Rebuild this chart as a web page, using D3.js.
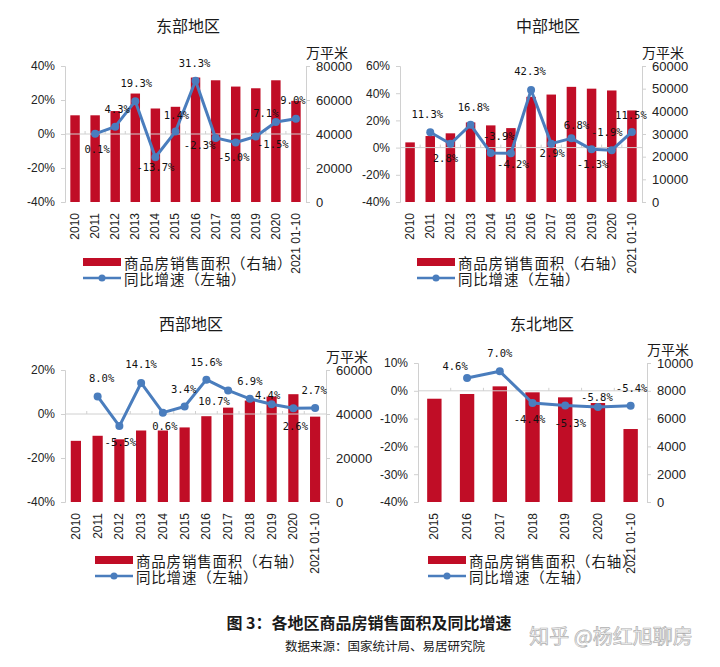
<!DOCTYPE html>
<html>
<head>
<meta charset="utf-8">
<script src="https://cdn.jsdelivr.net/npm/d3@7"></script>
<style>
  body { margin: 0; background: #fff; }
  svg { display: block; }
  text { fill: #1a1a1a; }
</style>
</head>
<body>
<div id="chart"></div>
<script>
// ---- data ----
const yearsLong = ["2010", "2011", "2012", "2013", "2014", "2015", "2016", "2017", "2018", "2019", "2020", "2021 01-10"];
const yearsShort = ["2015", "2016", "2017", "2018", "2019", "2020", "2021 01-10"];

// 东部地区
const eastArea = [51000, 51000, 53500, 63800, 55000, 56000, 73200, 71600, 67900, 66900, 71600, 59500];
const eastGrowth = [null, 0.1, 4.3, 19.3, -13.7, 1.4, 31.3, -2.3, -5.0, -1.5, 7.1, 9.0];
// 中部地区
const centralArea = [26300, 29100, 30300, 35100, 33800, 32600, 46400, 47400, 50800, 50000, 49200, 40400];
const centralGrowth = [null, 11.3, 2.8, 16.8, -3.9, -4.2, 42.3, 2.9, 6.8, -1.3, -1.9, 11.5];
// 西部地区
const westArea = [27800, 30100, 28500, 32500, 32500, 33900, 39000, 42900, 46100, 47900, 49000, 38800];
const westGrowth = [null, 8.0, -5.5, 14.1, 0.6, 3.4, 15.6, 10.7, 6.9, 4.4, 2.6, 2.7];
// 东北地区
const neArea = [7430, 7770, 8320, 7890, 7530, 7120, 5250];
const neGrowth = [null, 4.6, 7.0, -4.4, -5.3, -5.8, -5.4];

// label placement (dx, dy from the point), like the original chart
const eastLabelPos = [null, [2, 15], [2, -18], [1, -18], [0, 10], [1, -17], [-1, -18], [-16, 7], [-2, 14], [17, 7], [-10, -9], [-3, -19]];
const centralLabelPos = [null, [-3, -18], [-5, 14], [3, -18], [8, -17], [2, 11], [-1, -19], [1, 9], [5, -13], [1, 15], [-5, -18], [-1, -17]];
const westLabelPos = [null, [4, -18], [1, 16], [0, -19], [2, 13], [-1, -18], [0, -18], [-14, 11], [0, -18], [-4, -9], [2, 18], [-1, -18]];
const neLabelPos = [null, [-12, -12], [0, -18], [-3, 16], [5, 17], [-1, -10], [1, -18]];

const barColor = "#c00d26";
const lineColor = "#4a7dbd";
const axisColor = "#d0d0d0";

let svg = d3.select("#chart")
    .append("svg")
    .attr("width", 720)
    .attr("height", 667);

function drawPanel(p) {
    let g = svg.append("g");

    let scaleX = d3.scaleBand()
        .domain(p.cats)
        .range([p.left, p.right])
        .paddingInner(p.pad)
        .paddingOuter(p.pad / 2);
    let band = (p.right - p.left) / p.cats.length;
    let center = d => p.left + band * (p.cats.indexOf(d) + 0.5);

    let scaleL = d3.scaleLinear().domain(p.leftDomain).range([p.bottom, p.top]);
    let scaleR = d3.scaleLinear().domain(p.rightDomain).range([p.bottom, p.top]);

    // 标题
    g.append("text")
        .attr("x", p.titleX).attr("y", p.titleY)
        .attr("text-anchor", "middle")
        .attr("dominant-baseline", "central")
        .style("font", "16px 'Noto Sans CJK SC'")
        .text(p.title);

    // 左轴
    let axisL = d3.axisLeft(scaleL)
        .tickValues(d3.range(p.leftDomain[0], p.leftDomain[1] + 0.1, p.leftStep))
        .tickFormat(d => d + "%")
        .tickSize(4).tickPadding(6);
    let gl = g.append("g")
        .attr("transform", `translate(${p.left},0)`)
        .call(axisL);
    gl.selectAll("text").style("font", "12px 'Liberation Sans'").style("fill", "#222");

    // 右轴
    let axisR = d3.axisRight(scaleR)
        .tickValues(d3.range(p.rightDomain[0], p.rightDomain[1] + 1, p.rightStep))
        .tickFormat(d => d)
        .tickSize(4).tickPadding(6);
    let gr = g.append("g")
        .attr("transform", `translate(${p.right},0)`)
        .call(axisR);
    gr.selectAll("text").style("font", "13px 'Liberation Sans'").style("fill", "#222");

    g.selectAll(".domain, .tick line").attr("stroke", axisColor);

    g.append("text")
        .attr("x", p.right).attr("y", scaleR(p.rightDomain[1]) - 14)
        .attr("dominant-baseline", "central")
        .style("font", "14px 'Noto Sans CJK SC'")
        .text("万平米");

    // 柱子
    g.selectAll(".bar")
        .data(p.area)
        .enter()
        .append("rect")
        .attr("x", (d, i) => scaleX(p.cats[i]))
        .attr("width", scaleX.bandwidth())
        .attr("y", d => scaleR(d))
        .attr("height", d => scaleR(0) - scaleR(d))
        .attr("fill", barColor);

    // 0% 线 + 分类刻度
    let y0 = scaleL(0);
    g.append("line")
        .attr("x1", p.left).attr("x2", p.right)
        .attr("y1", y0).attr("y2", y0)
        .attr("stroke", axisColor);
    g.selectAll(".cat-tick")
        .data(d3.range(1, p.cats.length))
        .enter()
        .append("line")
        .attr("x1", i => p.left + band * i).attr("x2", i => p.left + band * i)
        .attr("y1", y0).attr("y2", y0 - 3)
        .attr("stroke", axisColor);

    // x 标签（竖排）
    g.selectAll(".xlab")
        .data(p.cats)
        .enter()
        .append("text")
        .attr("transform", d => `translate(${center(d) + 4},${p.bottom + 11}) rotate(-90)`)
        .attr("text-anchor", "end")
        .style("font", "12px 'Liberation Sans'")
        .style("fill", "#222")
        .text(d => d);

    // 折线
    let pts = p.growth.map((v, i) => ({ v: v, c: p.cats[i], pos: p.labelPos[i] }))
        .filter(d => d.v !== null);
    let line = d3.line()
        .x(d => center(d.c))
        .y(d => scaleL(d.v));
    g.append("path")
        .datum(pts)
        .attr("d", line)
        .attr("fill", "none")
        .attr("stroke", lineColor)
        .attr("stroke-width", 3)
        .attr("stroke-linejoin", "round");
    g.selectAll(".dot")
        .data(pts)
        .enter()
        .append("circle")
        .attr("cx", d => center(d.c))
        .attr("cy", d => scaleL(d.v))
        .attr("r", 4)
        .attr("fill", lineColor);

    // 数据标签
    g.selectAll(".dlab")
        .data(pts)
        .enter()
        .append("text")
        .attr("x", d => center(d.c) + d.pos[0])
        .attr("y", d => scaleL(d.v) + d.pos[1])
        .attr("text-anchor", "middle")
        .attr("dominant-baseline", "central")
        .style("font", "10.5px 'DejaVu Sans Mono'")
        .style("fill", "#111")
        .text(d => d.v.toFixed(1) + "%");

    // 图例
    let lg = g.append("g").attr("transform", `translate(${p.legendX},${p.legendY})`);
    lg.append("rect").attr("x", 0).attr("y", -4).attr("width", 38).attr("height", 8).attr("fill", barColor);
    lg.append("text").attr("x", 41).attr("y", 0).attr("dominant-baseline", "central")
        .style("font", "14.5px 'Noto Sans CJK SC'").style("letter-spacing", "0.8px")
        .text("商品房销售面积（右轴）");
    lg.append("line").attr("x1", 0).attr("x2", 38).attr("y1", 16).attr("y2", 16)
        .attr("stroke", lineColor).attr("stroke-width", 2.5);
    lg.append("circle").attr("cx", 19).attr("cy", 16).attr("r", 3.5).attr("fill", lineColor);
    lg.append("text").attr("x", 41).attr("y", 16).attr("dominant-baseline", "central")
        .style("font", "14.5px 'Noto Sans CJK SC'").style("letter-spacing", "0.8px")
        .text("同比增速（左轴）");
}

drawPanel({
    title: "东部地区", titleX: 188, titleY: 25,
    cats: yearsLong, area: eastArea, growth: eastGrowth, labelPos: eastLabelPos,
    left: 65, right: 306, top: 66, bottom: 202, pad: 0.53,
    leftDomain: [-40, 40], leftStep: 20, rightDomain: [0, 80000], rightStep: 20000,
    legendX: 83, legendY: 262
});
drawPanel({
    title: "中部地区", titleX: 548, titleY: 25,
    cats: yearsLong, area: centralArea, growth: centralGrowth, labelPos: centralLabelPos,
    left: 400, right: 642, top: 66, bottom: 202, pad: 0.53,
    leftDomain: [-40, 60], leftStep: 20, rightDomain: [0, 60000], rightStep: 10000,
    legendX: 417, legendY: 262
});
drawPanel({
    title: "西部地区", titleX: 191, titleY: 323,
    cats: yearsLong, area: westArea, growth: westGrowth, labelPos: westLabelPos,
    left: 65, right: 326, top: 370, bottom: 502, pad: 0.53,
    leftDomain: [-40, 20], leftStep: 20, rightDomain: [0, 60000], rightStep: 20000,
    legendX: 95, legendY: 560
});
drawPanel({
    title: "东北地区", titleX: 542, titleY: 323,
    cats: yearsShort, area: neArea, growth: neGrowth, labelPos: neLabelPos,
    left: 418, right: 647, top: 363, bottom: 502, pad: 0.56,
    leftDomain: [-40, 10], leftStep: 10, rightDomain: [0, 10000], rightStep: 2000,
    legendX: 428, legendY: 560
});

// 图注
svg.append("text")
    .attr("x", 369).attr("y", 622)
    .attr("text-anchor", "middle").attr("dominant-baseline", "central")
    .style("font", "bold 16px 'Noto Sans CJK SC'")
    .text("图 3：各地区商品房销售面积及同比增速");
svg.append("text")
    .attr("x", 385).attr("y", 645)
    .attr("text-anchor", "middle").attr("dominant-baseline", "central")
    .style("font", "12.5px 'Noto Sans CJK SC'")
    .text("数据来源：国家统计局、易居研究院");
svg.append("text")
    .attr("x", 611).attr("y", 635)
    .attr("text-anchor", "middle").attr("dominant-baseline", "central")
    .style("font", "20px 'Noto Sans CJK SC'")
    .style("fill", "#f6f6f6")
    .attr("stroke", "#b0b0b0").attr("stroke-width", 0.7)
    .text("知乎 @杨红旭聊房");
</script>
</body>
</html>
